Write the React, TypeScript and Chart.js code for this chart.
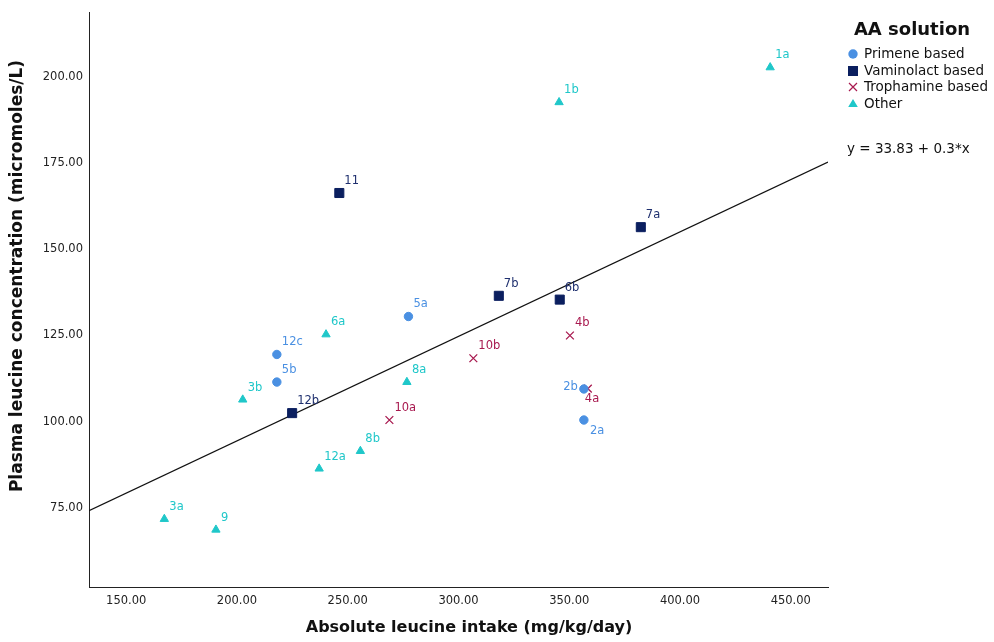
import React, { useEffect, useRef } from 'react';
import { Chart, registerables } from 'chart.js';

Chart.register(...registerables);

// ---- data ----
const xTicks = [150, 200, 250, 300, 350, 400, 450];
const yTicks = [75, 100, 125, 150, 175, 200];
const xMin = 133.2;
const xMax = 466.8;
const yMin = 52.1;
const yMax = 218.5;

const primeneX = [218.0, 218.0, 277.4, 356.6, 356.6];
const primeneY = [119.5, 111.5, 130.5, 109.5, 100.5];
const primeneLabels = ['12c', '5b', '5a', '2b', '2a'];

const vaminolactX = [246.2, 382.3, 318.2, 345.7, 224.9];
const vaminolactY = [166.3, 156.4, 136.5, 135.4, 102.5];
const vaminolactLabels = ['11', '7a', '7b', '6b', '12b'];

const trophamineX = [350.3, 358.4, 306.7, 268.8];
const trophamineY = [125.0, 109.6, 118.4, 100.5];
const trophamineLabels = ['4b', '4a', '10b', '10a'];

const otherX = [440.7, 345.4, 240.2, 202.6, 276.7, 237.1, 255.7, 167.2, 190.5];
const otherY = [202.7, 192.6, 125.3, 106.4, 111.5, 86.4, 91.5, 71.8, 68.7];
const otherLabels = ['1a', '1b', '6a', '3b', '8a', '12a', '8b', '3a', '9'];

const seriesNames = ['Primene based', 'Vaminolact based', 'Trophamine based', 'Other'];
const seriesColors = ['#4a90e2', '#0b1f5f', '#a8194f', '#1fc7c9'];
const labelColors = ['#4a90e2', '#1e2f6e', '#a8194f', '#1fc7c9'];
const seriesStyles = ['circle', 'rect', 'crossRot', 'triangle'];

const fitIntercept = 33.83;
const fitSlope = 0.303;
const fitText = 'y = 33.83 + 0.3*x';

const legendTitle = 'AA solution';
const xTitle = 'Absolute leucine intake (mg/kg/day)';
const yTitle = 'Plasma leucine concentration (micromoles/L)';

// label placements that differ from the default (upper right)
const labelPlacement: Record<string, string> = { '2b': 'left', '4a': 'below', '2a': 'belowRight' };

const FONT = '"DejaVu Sans", sans-serif';

function toPoints(xs: number[], ys: number[]) {
  return xs.map((x, i) => ({ x, y: ys[i] }));
}

const allX = [primeneX, vaminolactX, trophamineX, otherX];
const allY = [primeneY, vaminolactY, trophamineY, otherY];
const allLabels = [primeneLabels, vaminolactLabels, trophamineLabels, otherLabels];

function drawMarker(ctx: CanvasRenderingContext2D, style: string, x: number, y: number, color: string) {
  ctx.save();
  ctx.fillStyle = color;
  ctx.strokeStyle = color;
  ctx.lineWidth = 1.2;
  ctx.beginPath();
  if (style === 'circle') {
    ctx.arc(x, y, 4.7, 0, Math.PI * 2);
    ctx.fill();
  } else if (style === 'rect') {
    ctx.rect(x - 5, y - 5, 10, 10);
    ctx.fill();
  } else if (style === 'crossRot') {
    ctx.moveTo(x - 4, y - 4);
    ctx.lineTo(x + 4, y + 4);
    ctx.moveTo(x + 4, y - 4);
    ctx.lineTo(x - 4, y + 4);
    ctx.stroke();
  } else {
    ctx.moveTo(x, y - 5);
    ctx.lineTo(x + 4.8, y + 3);
    ctx.lineTo(x - 4.8, y + 3);
    ctx.closePath();
    ctx.fill();
  }
  ctx.restore();
}

const annotationPlugin = {
  id: 'annotations',
  afterDatasetsDraw(chart: any) {
    const ctx: CanvasRenderingContext2D = chart.ctx;
    ctx.save();
    ctx.font = `11.5px ${FONT}`;
    ctx.textBaseline = 'middle';
    for (let d = 0; d < 4; d++) {
      const meta = chart.getDatasetMeta(d);
      meta.data.forEach((el: any, j: number) => {
        const lbl = allLabels[d][j];
        const p = labelPlacement[lbl];
        ctx.fillStyle = labelColors[d];
        if (p === 'left') {
          ctx.textAlign = 'right';
          ctx.fillText(lbl, el.x - 6, el.y - 2);
        } else if (p === 'below') {
          ctx.textAlign = 'left';
          ctx.fillText(lbl, el.x - 3, el.y + 10);
        } else if (p === 'belowRight') {
          ctx.textAlign = 'left';
          ctx.fillText(lbl, el.x + 6, el.y + 11);
        } else {
          ctx.textAlign = 'left';
          ctx.fillText(lbl, el.x + 5, el.y - 12);
        }
      });
    }
    ctx.restore();
  },
  afterDraw(chart: any) {
    const ctx: CanvasRenderingContext2D = chart.ctx;
    const area = chart.chartArea;
    ctx.save();
    ctx.fillStyle = '#111';
    // axis titles
    ctx.font = `bold 16px ${FONT}`;
    ctx.textAlign = 'center';
    ctx.textBaseline = 'middle';
    ctx.fillText(xTitle, 469, 628);
    ctx.save();
    ctx.font = `bold 17px ${FONT}`;
    ctx.translate(18, 276);
    ctx.rotate(-Math.PI / 2);
    ctx.fillText(yTitle, 0, 0);
    ctx.restore();
    // legend
    ctx.font = `bold 18px ${FONT}`;
    ctx.fillText(legendTitle, 912, 30);
    ctx.font = `13.5px ${FONT}`;
    ctx.textAlign = 'left';
    const rowY = [54, 71, 87, 104];
    seriesNames.forEach((name, i) => {
      drawMarker(ctx, seriesStyles[i], 853, rowY[i], seriesColors[i]);
      ctx.fillStyle = '#111';
      ctx.fillText(name, 864, rowY[i]);
    });
    // fit equation
    ctx.fillText(fitText, area.right + 19, 149);
    ctx.restore();
  },
};

export default function App() {
  const ref = useRef<HTMLCanvasElement | null>(null);

  useEffect(() => {
    if (!ref.current) return;
    const datasets: any[] = seriesNames.map((name, i) => ({
      label: name,
      data: toPoints(allX[i], allY[i]),
      backgroundColor: seriesColors[i],
      borderColor: seriesColors[i],
      pointStyle: seriesStyles[i],
      pointRadius: [4.2, 6.4, 5.5, 4.8][i],
      pointBorderWidth: [1, 1, 1.3, 1][i],
      order: 0,
    }));
    datasets.push({
      type: 'line',
      label: 'fit',
      data: [
        { x: xMin, y: fitIntercept + fitSlope * xMin },
        { x: xMax, y: fitIntercept + fitSlope * xMax },
      ],
      borderColor: '#111',
      borderWidth: 1.2,
      pointRadius: 0,
      showLine: true,
      fill: false,
      order: 10,
    });

    const chart = new Chart(ref.current, {
      type: 'scatter',
      data: { datasets },
      options: {
        animation: false,
        responsive: false,
        maintainAspectRatio: false,
        layout: { padding: { top: 11, right: 166, left: 0, bottom: 0 } },
        plugins: { legend: { display: false }, tooltip: { enabled: false } },
        scales: {
          x: {
            type: 'linear',
            min: xMin,
            max: xMax,
            afterBuildTicks: (s: any) => {
              s.ticks = xTicks.map((v) => ({ value: v }));
            },
            afterFit: (s: any) => {
              s.height = 55;
            },
            grid: { display: true, drawOnChartArea: false, drawTicks: false },
            border: { display: true, color: '#222', width: 1 },
            ticks: {
              padding: 7,
              color: '#222',
              font: { family: FONT, size: 11.5 },
              callback: (v: any) => Number(v).toFixed(2),
              maxRotation: 0,
            },
          },
          y: {
            type: 'linear',
            min: yMin,
            max: yMax,
            afterBuildTicks: (s: any) => {
              s.ticks = yTicks.map((v) => ({ value: v }));
            },
            afterFit: (s: any) => {
              s.width = 89;
            },
            grid: { display: true, drawOnChartArea: false, drawTicks: false },
            border: { display: true, color: '#222', width: 1 },
            ticks: {
              padding: 6,
              color: '#222',
              font: { family: FONT, size: 11.5 },
              callback: (v: any) => Number(v).toFixed(2),
            },
          },
        },
      },
      plugins: [annotationPlugin],
    } as any);
    return () => chart.destroy();
  }, []);

  return (
    <div style={{ position: 'fixed', left: 0, top: 0, width: 994, height: 642, background: '#fff' }}>
      <canvas ref={ref} width={994} height={642} style={{ display: 'block' }} />
    </div>
  );
}
